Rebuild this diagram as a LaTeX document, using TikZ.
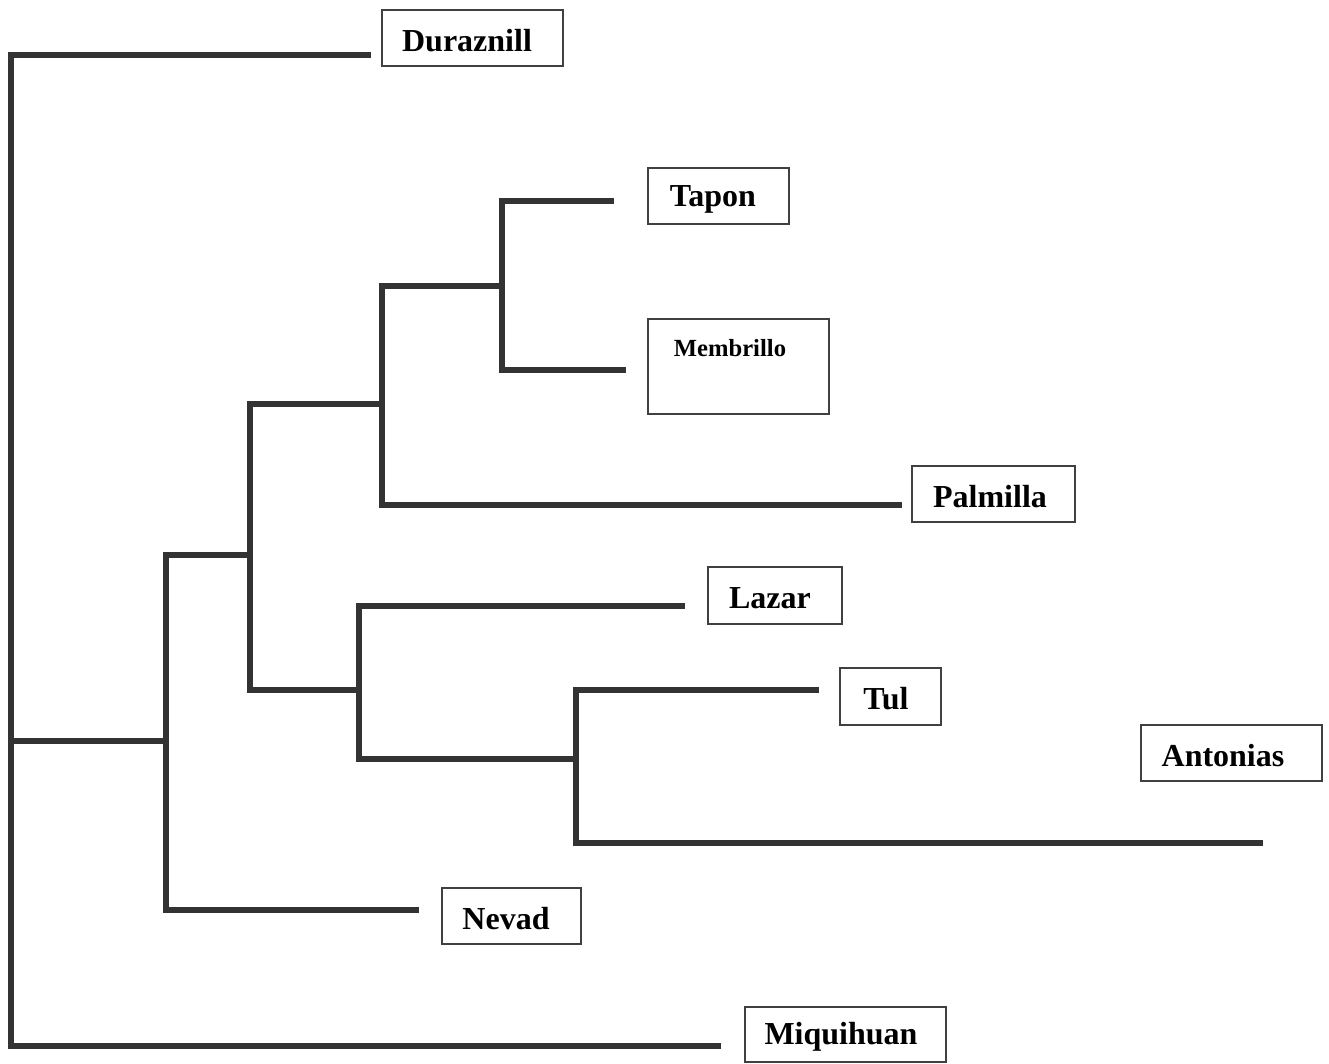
\documentclass[tikz,border=0pt]{standalone}
\usepackage{fontspec}
\setmainfont{Liberation Serif}
\begin{document}
\begin{tikzpicture}[x=0.01cm,y=-0.01cm,
  branch/.style={draw=black!80, line width=1.45pt, line cap=rect},
  taxbox/.style={draw=black!75, line width=0.6pt, inner sep=0pt},
  taxtxt/.style={inner sep=0pt, font=\bfseries\fontsize{9.1pt}{10pt}\selectfont},
  smalltxt/.style={font=\bfseries\fontsize{7pt}{8pt}\selectfont, inner sep=0pt}]
\useasboundingbox (0,0) rectangle (1329,1064);
% boxes
\node[taxbox, minimum width=181*0.01cm, minimum height=56*0.01cm] (dur) at (472.5,38) {};
\node[taxbox, minimum width=141*0.01cm, minimum height=56*0.01cm] (tap) at (718.5,196) {};
\node[taxbox, minimum width=181*0.01cm, minimum height=95*0.01cm] (memb) at (738.5,366.5) {};
\node[taxbox, minimum width=163*0.01cm, minimum height=56*0.01cm] (pal) at (993.5,494) {};
\node[taxbox, minimum width=134*0.01cm, minimum height=57*0.01cm] (laz) at (775,595.5) {};
\node[taxbox, minimum width=101*0.01cm, minimum height=57*0.01cm] (tul) at (890.5,696.5) {};
\node[taxbox, minimum width=181*0.01cm, minimum height=56*0.01cm] (ant) at (1231.5,753) {};
\node[taxbox, minimum width=139*0.01cm, minimum height=56*0.01cm] (nev) at (511.5,916) {};
\node[taxbox, minimum width=201*0.01cm, minimum height=55*0.01cm] (miq) at (845.5,1034.5) {};
% labels
\node[taxtxt] (durt) at (467,41) {Duraznill};
\node[taxtxt] (tapt) at (713,199) {Tapon};
\node[smalltxt] (membt) at (730,348) {Membrillo};
\node[taxtxt] (palt) at (990,497) {Palmilla};
\node[taxtxt] (lazt) at (770,598) {Lazar};
\node[taxtxt] (tult) at (886,699) {Tul};
\node[taxtxt] (antt) at (1223,756) {Antonias};
\node[taxtxt] (nevt) at (506,919) {Nevad};
\node[taxtxt] (miqt) at (841,1037) {Miquihuan};
% internal nodes and leaf ends
\coordinate (r1) at (11,55);
\coordinate (r2) at (11,1046);
\coordinate (rm) at (11,741);
\coordinate (a1) at (166,555);
\coordinate (a2) at (166,910);
\coordinate (am) at (166,741);
\coordinate (b1) at (250,404);
\coordinate (b2) at (250,690);
\coordinate (bm) at (250,555);
\coordinate (c1) at (382,286);
\coordinate (c2) at (382,505);
\coordinate (cm) at (382,404);
\coordinate (d1) at (502,201);
\coordinate (d2) at (502,370);
\coordinate (dm) at (502,286);
\coordinate (e1) at (359,606);
\coordinate (e2) at (359,759);
\coordinate (em) at (359,690);
\coordinate (f1) at (576,690);
\coordinate (f2) at (576,843);
\coordinate (fm) at (576,759);
\coordinate (ldur) at (368,55);
\coordinate (lmiq) at (718,1046);
\coordinate (lnev) at (416,910);
\coordinate (ltap) at (611,201);
\coordinate (lmem) at (623,370);
\coordinate (lpal) at (899,505);
\coordinate (llaz) at (682,606);
\coordinate (ltul) at (816,690);
\coordinate (lant) at (1260,843);
% branches
\draw[branch] (ldur) -- (r1) -- (r2) -- (lmiq);
\draw[branch] (rm) -- (am);
\draw[branch] (lnev) -- (a2) -- (a1) -- (bm);
\draw[branch] (b2) -- (b1) -- (cm);
\draw[branch] (lpal) -- (c2) -- (c1) -- (dm);
\draw[branch] (ltap) -- (d1) -- (d2) -- (lmem);
\draw[branch] (b2) -- (em);
\draw[branch] (llaz) -- (e1) -- (e2) -- (fm);
\draw[branch] (ltul) -- (f1) -- (f2) -- (lant);
\end{tikzpicture}
\end{document}
